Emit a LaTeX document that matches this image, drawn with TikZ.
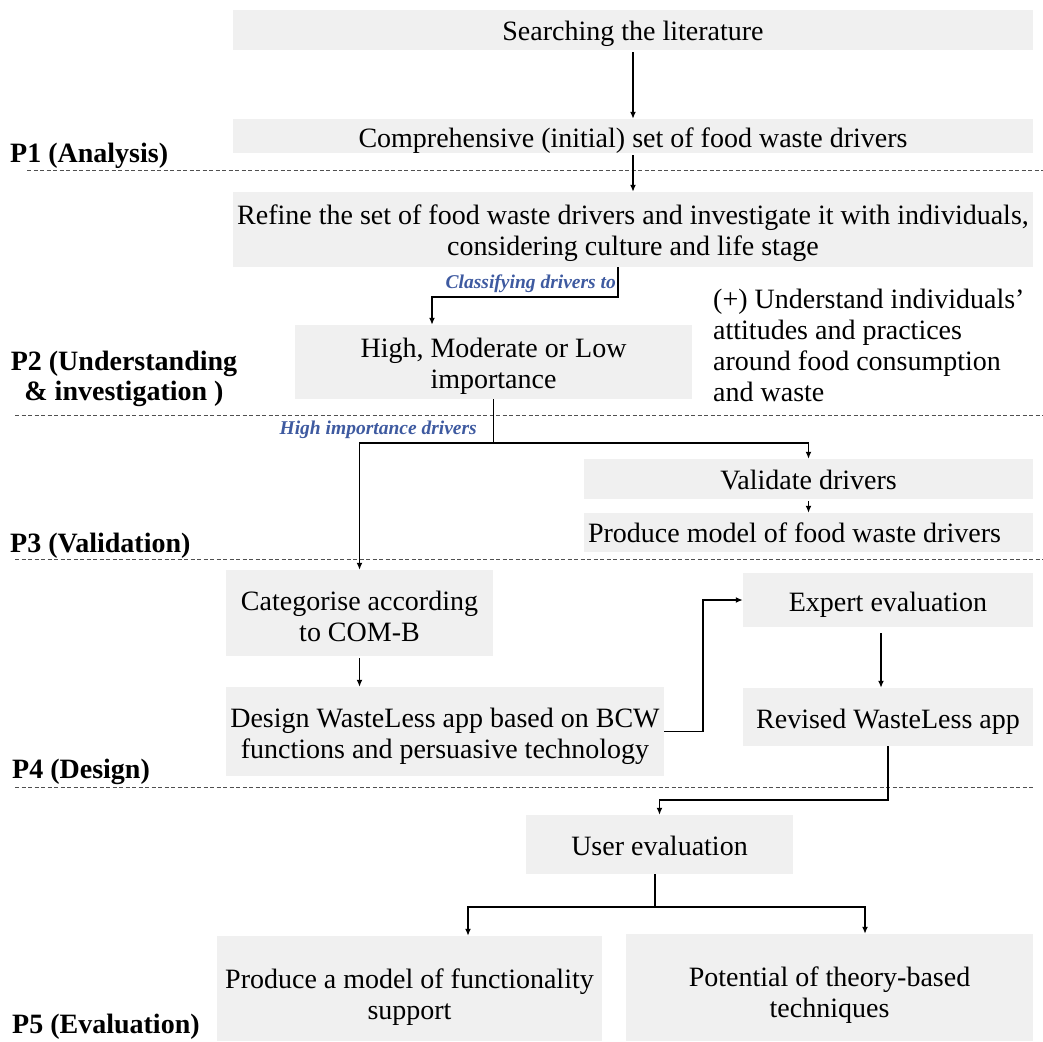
\documentclass[tikz,border=0pt]{standalone}
\usepackage{fontspec}
\setmainfont{Liberation Serif}
\usetikzlibrary{arrows.meta}
\definecolor{boxfill}{RGB}{240,240,240}
\definecolor{notecol}{RGB}{62,90,160}
\definecolor{sepcol}{RGB}{80,80,80}
\newcommand{\mainsize}{\fontsize{28}{31}\selectfont}
% strut that lowers the text inside a box
\newcommand{\lift}[1]{\rule{0pt}{#1}}
\newcommand{\boxlift}{28pt}

\begin{document}
\begin{tikzpicture}[x=1pt,y=-1pt,
  textlift/.store in=\boxlift,
  stepbox/.style={fill=boxfill, draw=none, inner sep=0pt, align=center, font=\mainsize,
    execute at begin node={\lift{\boxlift}}},
  flow/.style={line width=1.7pt, -{Latex[length=7pt,width=6pt]}},
  link/.style={line width=1.7pt},
  sep/.style={sepcol, line width=0.9pt, dash pattern=on 4pt off 2.5pt},
  phase/.style={font=\fontsize{28}{30}\selectfont\bfseries, inner sep=0pt},
  note/.style={font=\fontsize{19.5}{22}\selectfont\bfseries\itshape, text=notecol, inner sep=0pt}]

\useasboundingbox (0,0) rectangle (1043,1041);

% phase separators
\draw[sep] (27,170) -- (1043,170);
\draw[sep] (15,415) -- (1043,415);
\draw[sep] (15,559) -- (1043,559);
\draw[sep] (15,787) -- (1033,787);

% phase labels
\node[phase, anchor=base west] (p1) at (10,162) {P1 (Analysis)};
\node[phase, align=center, anchor=north] (p2) at (124,351) {P2 (Understanding\\ \& investigation )};
\node[phase, anchor=base west] (p3) at (10,552) {P3 (Validation)};
\node[phase, anchor=base west] (p4) at (12,778) {P4 (Design)};
\node[phase, anchor=base west] (p5) at (12,1033) {P5 (Evaluation)};

% process steps
\node[stepbox, minimum width=800pt, minimum height=40pt] (search) at (633,30) {Searching the literature};
\node[stepbox, minimum width=800pt, minimum height=34pt] (initial) at (633,136) {Comprehensive (initial) set of food waste drivers};
\node[stepbox, minimum width=800pt, minimum height=75pt] (refine) at (633,229.5) {\lift{28pt}Refine the set of food waste drivers and investigate it with individuals,\\ considering culture and life stage};
\node[stepbox, minimum width=397pt, minimum height=74pt] (level) at (493.5,362) {\lift{28pt}High, Moderate or Low\\ importance};
\node[stepbox, textlift=22pt, minimum width=449pt, minimum height=40pt] (validate) at (808.5,479) {Validate drivers};
\node[stepbox, textlift=18pt, minimum width=449pt, minimum height=39pt] (model) at (808.5,532.5) {Produce model of food waste drivers\hspace*{28pt}};
\node[stepbox, minimum width=267pt, minimum height=86pt] (comb) at (359.5,613) {\lift{26pt}Categorise according\\ to COM-B};
\node[stepbox, minimum width=438pt, minimum height=89pt] (design) at (445,731.5) {\lift{30pt}Design WasteLess app based on BCW\\ functions and persuasive technology};
\node[stepbox, minimum width=290pt, minimum height=54pt] (expert) at (888,600) {Expert evaluation};
\node[stepbox, minimum width=290pt, minimum height=58pt] (revised) at (888,717) {Revised WasteLess app};
\node[stepbox, textlift=22pt, minimum width=267pt, minimum height=59pt] (user) at (659.5,844.5) {User evaluation};
\node[stepbox, minimum width=385pt, minimum height=105pt] (support) at (409.5,988.5) {\lift{36pt}Produce a model of functionality\\ support};
\node[stepbox, minimum width=407pt, minimum height=107pt] (theory) at (829.5,987.5) {\lift{35pt}Potential of theory-based\\ techniques};

% side note
\node[font=\mainsize, align=left, anchor=north west, inner sep=0pt] (aside) at (713,289)
  {(+) Understand individuals'\\attitudes and practices\\around food consumption\\and waste};

% connectors
\draw[flow, shorten <=2pt] (search) -- (initial);
\draw[flow, shorten <=2pt] (initial) -- (refine);

\coordinate (k1) at (618,297);
\coordinate (k2) at (432,297);
\draw[flow] (refine.south -| k1) -- (k1) -- (k2) -- (k2 |- level.north);
\node[note, anchor=east] (classify) at (616,284) {Classifying drivers to};

\coordinate (h0) at (493.5,443);
\draw[link] (level.south) -- (h0);
\draw[flow] (h0) -| (comb.north);
\draw[flow] (h0) -| (validate.north);
\node[note, anchor=east] (highlabel) at (477,430) {High importance drivers};

\draw[flow, shorten <=2pt] (validate) -- (model);
\draw[flow, shorten <=2pt] (comb.south) -- (comb.south |- design.north);
\draw[flow] (design.east) -- ++(39,0) |- (expert.west);
\draw[flow, shorten <=6pt] ([xshift=-7pt]expert.south) -- ([xshift=-7pt]revised.north);

\coordinate (r1) at (888,800);
\draw[flow] (revised.south) -- (r1) -| (user.north);

\coordinate (u1) at (655,907);
\coordinate (u2) at (468,907);
\coordinate (u3) at (865,907);
\draw[link] (user.south -| u1) -- (u1);
\draw[flow] (u1) -- (u2) -- (u2 |- support.north);
\draw[flow] (u1) -- (u3) -- (u3 |- theory.north);

\end{tikzpicture}
\end{document}
